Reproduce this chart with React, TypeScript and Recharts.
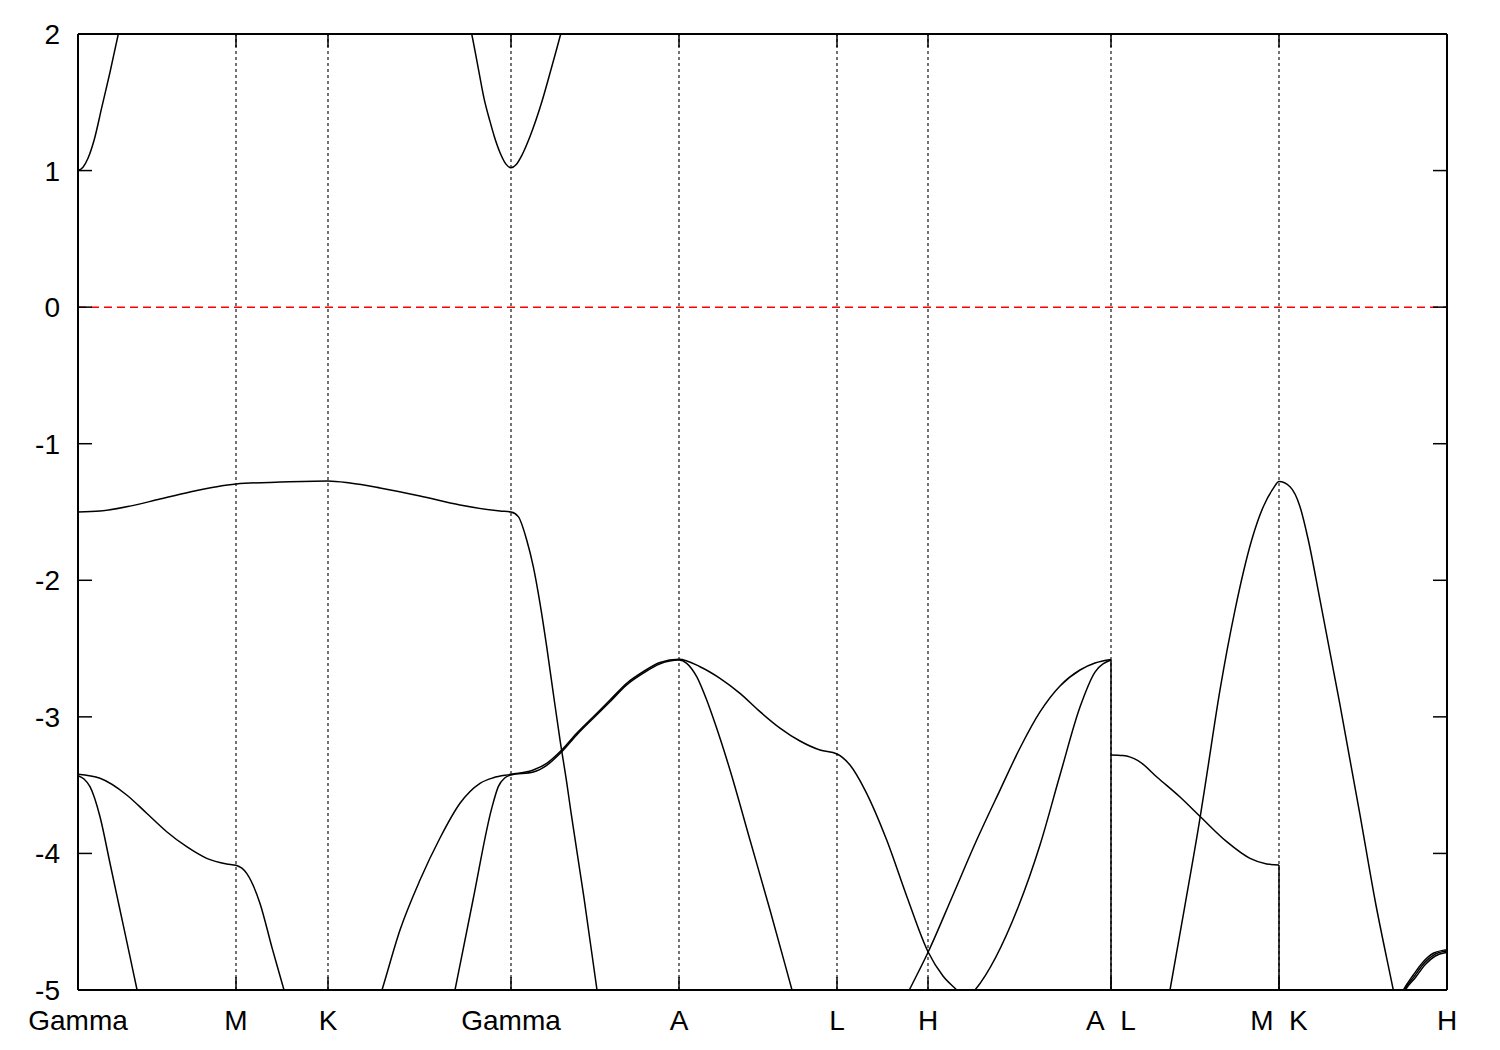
import React from "react";
import { LineChart, Line, XAxis, YAxis, ReferenceLine } from "recharts";

// k-path positions (arbitrary path-length units) and labels of the high-symmetry points
const K_TICKS = [0, 158, 250, 433, 601, 759, 850, 1033, 1201, 1369];
const K_LABELS = ["Gamma", "M", "K", "Gamma", "A", "L", "H", "A\u00a0\u00a0L", "M\u00a0\u00a0K", "H"];
const E_TICKS = [-5, -4, -3, -2, -1, 0, 1, 2];

type P = [number, number];

// conduction bands
const cb1: P[] = [[0, 1.0], [5, 1.025], [10, 1.09], [16, 1.22], [24, 1.47], [32, 1.72], [40.3, 2.0], [46, 2.18]];
const cb2: P[] = [[388, 2.18], [393.7, 2.0], [400, 1.76], [406.3, 1.52], [412, 1.36], [416.3, 1.25], [422.7, 1.12], [428, 1.047], [433, 1.02], [438, 1.042], [443.7, 1.11], [452, 1.25], [463.7, 1.5], [473, 1.74], [482.7, 2.0], [488, 2.15]];

// valence bands
const vb1: P[] = [[0, -1.5], [22, -1.493], [52, -1.457], [82, -1.405], [112, -1.354], [137, -1.317], [158, -1.295], [202, -1.281], [250, -1.273], [272, -1.288], [302, -1.324], [342, -1.383], [382, -1.449], [422, -1.493], [433, -1.5], [440.3, -1.534], [448.7, -1.705], [455.3, -1.9], [462, -2.169], [468.7, -2.486], [475.3, -2.828], [482, -3.169], [488.7, -3.48], [493, -3.7], [506, -4.326], [519, -5.0], [525, -5.3]];
const vb2: P[] = [[0, -3.421], [22, -3.45], [48.7, -3.572], [68.7, -3.706], [88.7, -3.841], [108.7, -3.951], [128.7, -4.036], [148.7, -4.077], [158, -4.087], [168.7, -4.146], [182, -4.366], [194, -4.69], [206, -5.0], [212, -5.16]];
const vb3: P[] = [[0, -3.43], [6, -3.455], [12, -3.511], [22, -3.731], [32, -4.072], [42, -4.414], [52, -4.756], [58.5, -4.98], [62, -5.1]];
const vb4: P[] = [[298, -5.14], [304, -5.0], [322, -4.561], [342, -4.195], [362, -3.887], [382, -3.633], [402, -3.487], [415.3, -3.446], [433, -3.421], [455.3, -3.389], [468.7, -3.34], [483.7, -3.243], [498.7, -3.12], [515.3, -2.999], [532, -2.877], [548.7, -2.754], [565.3, -2.669], [582, -2.602], [601, -2.578], [622, -2.633], [642, -2.718], [662, -2.828], [682, -2.962], [702, -3.082], [722, -3.177], [742, -3.243], [759, -3.272], [772, -3.353], [787, -3.536], [808.7, -3.902], [829, -4.319], [850, -4.72], [865, -4.898], [878.7, -5.0], [888, -5.07], [897, -5.0], [940.3, -4.39], [962, -3.938], [982, -3.426], [1002, -2.928], [1017, -2.672], [1033, -2.584]];
const vb5: P[] = [[371, -5.22], [377, -5.0], [395, -4.341], [413.7, -3.67], [420.3, -3.511], [427, -3.446], [433, -3.426], [455.3, -3.404], [468.7, -3.355], [483.7, -3.256], [498.7, -3.132], [515.3, -3.01], [532, -2.889], [548.7, -2.766], [565.3, -2.68], [582, -2.612], [601, -2.584], [608.7, -2.608], [618.7, -2.706], [628.7, -2.877], [638.7, -3.084], [652, -3.389], [672, -3.902], [692, -4.414], [714, -5.0], [720, -5.16]];
const vb6: P[] = [[824.5, -5.1], [831.3, -5.0], [850.3, -4.72], [875, -4.304], [898.7, -3.902], [922, -3.536], [942, -3.228], [962, -2.964], [982, -2.774], [1002, -2.657], [1017, -2.606], [1033, -2.58]];
const jumpAL: P[] = [[1033, -2.58], [1033, -5.0]];
const vb7: P[] = [[1033, -3.279], [1045, -3.283], [1060, -3.32], [1080, -3.448], [1102, -3.587], [1123.7, -3.741], [1148.7, -3.914], [1172, -4.036], [1188.7, -4.077], [1201, -4.085]];
const jumpMK: P[] = [[1201, -4.085], [1201, -5.0]];
const vb8: P[] = [[1088, -5.17], [1092, -5.0], [1107, -4.378], [1122, -3.741], [1128, -3.462], [1142, -2.803], [1157, -2.218], [1173.7, -1.705], [1185.3, -1.461], [1195.3, -1.327], [1201, -1.277], [1212, -1.315], [1222, -1.461], [1230.3, -1.705], [1242, -2.144], [1262, -2.913], [1282, -3.718], [1297, -4.341], [1315.3, -5.0], [1320, -5.17]];
const vb9a: P[] = [[1320, -5.08], [1325.3, -5.0], [1335.3, -4.89], [1345.3, -4.793], [1355.3, -4.731], [1367, -4.707], [1369, -4.705]];
const vb9b: P[] = [[1321, -5.08], [1326.3, -5.0], [1336.3, -4.9], [1346.3, -4.803], [1356.3, -4.741], [1367, -4.717], [1369, -4.715]];
const vb9c: P[] = [[1322, -5.08], [1327.3, -5.0], [1337.3, -4.91], [1347.3, -4.813], [1357.3, -4.751], [1367, -4.727], [1369, -4.725]];

const curved: P[][] = [cb1, cb2, vb1, vb2, vb3, vb4, vb5, vb6, vb7, vb8, vb9a, vb9b, vb9c];
const straight: P[][] = [jumpAL, jumpMK];

const toRows = (b: P[]) => b.map(([k, E]) => ({ k, E }));

const FONT = "'Liberation Sans', Arial, Helvetica, sans-serif";

const BottomTick = (props: any) => {
  const { x, y, payload } = props;
  const i = K_TICKS.indexOf(payload.value);
  return (
    <text x={x} y={y} dy="0.71em" textAnchor="middle" fontSize={28} fontFamily={FONT} fill="#000">
      {i >= 0 ? K_LABELS[i] : ""}
    </text>
  );
};

const Empty = () => <g />;

export default function App() {
  const axisLine = { stroke: "#000", strokeWidth: 2 };
  const tickLine = { stroke: "#000", strokeWidth: 1.5 };
  return (
    <div style={{ position: "absolute", left: 0, top: 0, background: "#fff" }}>
      <LineChart width={1500} height={1050} margin={{ top: 33, right: 52, bottom: 0, left: 0 }}>
        <XAxis
          xAxisId="b"
          type="number"
          dataKey="k"
          domain={[0, 1369]}
          ticks={K_TICKS}
          interval={0}
          allowDataOverflow
          height={60}
          axisLine={axisLine}
          tickLine={tickLine}
          tickSize={-13}
          tickMargin={33}
          tick={BottomTick}
        />
        <XAxis
          xAxisId="t"
          orientation="top"
          type="number"
          dataKey="k"
          domain={[0, 1369]}
          ticks={K_TICKS}
          interval={0}
          allowDataOverflow
          height={1}
          axisLine={axisLine}
          tickLine={tickLine}
          tickSize={-13}
          tick={Empty}
        />
        <YAxis
          yAxisId="l"
          type="number"
          domain={[-5, 2]}
          ticks={E_TICKS}
          interval={0}
          allowDataOverflow
          width={78}
          axisLine={axisLine}
          tickLine={tickLine}
          tickSize={-14}
          tickMargin={32}
          tick={{ fill: "#000", fontSize: 28, fontFamily: FONT }}
        />
        <YAxis
          yAxisId="r"
          orientation="right"
          type="number"
          domain={[-5, 2]}
          ticks={E_TICKS}
          interval={0}
          allowDataOverflow
          width={1}
          axisLine={axisLine}
          tickLine={tickLine}
          tickSize={-14}
          tick={Empty}
        />
        {K_TICKS.slice(1, -1).map((k) => (
          <ReferenceLine key={"v" + k} xAxisId="b" yAxisId="l" x={k} stroke="#000" strokeWidth={1.1} strokeDasharray="3 3" />
        ))}
        <ReferenceLine xAxisId="b" yAxisId="l" y={0} stroke="#ff0000" strokeWidth={1.5} strokeDasharray="8 5" />
        <Line
          xAxisId="t"
          yAxisId="r"
          data={toRows(cb1)}
          dataKey="E"
          stroke="none"
          dot={false}
          activeDot={false}
          legendType="none"
          isAnimationActive={false}
        />
        {curved.map((b, i) => (
          <Line
            key={"c" + i}
            xAxisId="b"
            yAxisId="l"
            data={toRows(b)}
            dataKey="E"
            type="monotone"
            stroke="#000"
            strokeWidth={1.5}
            dot={false}
            activeDot={false}
            isAnimationActive={false}
          />
        ))}
        {straight.map((b, i) => (
          <Line
            key={"s" + i}
            xAxisId="b"
            yAxisId="l"
            data={toRows(b)}
            dataKey="E"
            type="linear"
            stroke="#000"
            strokeWidth={1.5}
            dot={false}
            activeDot={false}
            isAnimationActive={false}
          />
        ))}
      </LineChart>
    </div>
  );
}
